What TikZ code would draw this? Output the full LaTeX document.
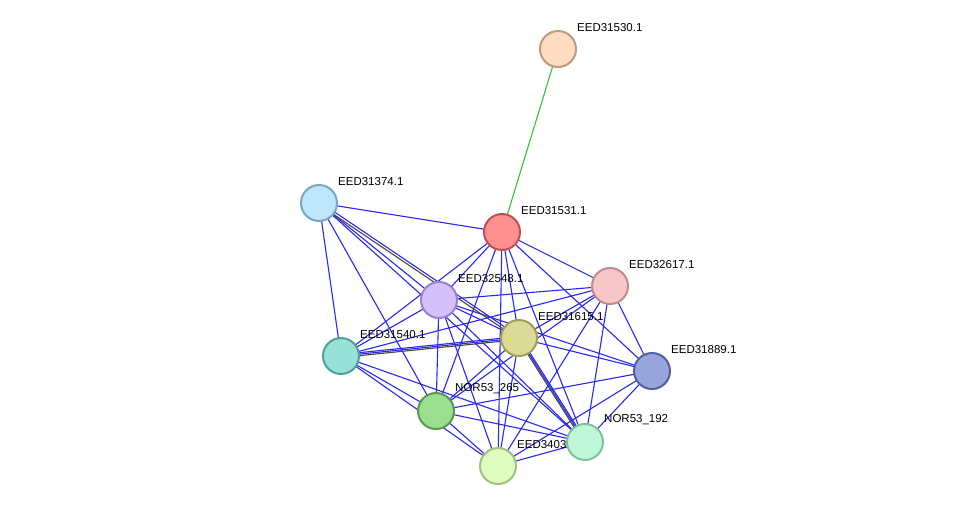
\documentclass[tikz,border=0pt]{standalone}
\usepackage{fontspec}
\setmainfont{Liberation Sans}
\begin{document}
\begin{tikzpicture}[x=1pt,y=-1pt,
  nd/.style={circle,minimum size=36pt,inner sep=0pt,line width=2pt},
  lb/.style={anchor=south west,inner sep=0pt,font=\fontsize{11.5}{13}\selectfont},
  e/.style={draw={rgb,255:red,40;green,40;blue,240},line width=1.1pt},
  g/.style={draw={rgb,255:red,70;green,70;blue,70},line width=1.1pt}]
\useasboundingbox (0,0) rectangle (976,512);
\coordinate (p530) at (558,49);
\coordinate (p374) at (319,203);
\coordinate (p531) at (502,232);
\coordinate (p617) at (610,286);
\coordinate (p548) at (439,300);
\coordinate (p615) at (519,338);
\coordinate (p540) at (341,356);
\coordinate (p889) at (652,371);
\coordinate (p265) at (436,411);
\coordinate (p192) at (585,442);
\coordinate (p3403) at (498,466);
\draw[line width=1.1pt,green!70!black!80] (p531) -- (p530);
\foreach \a/\b in {374/531,374/548,374/540,374/265,374/192,
  531/548,531/540,531/615,531/617,531/889,531/3403,531/192,531/265,
  548/617,548/615,548/540,548/265,548/3403,548/192,548/889,
  617/540,617/615,617/265,617/889,617/192,617/3403,
  615/540,615/265,615/3403,615/192,615/889,
  540/265,540/3403,540/192,
  265/889,265/3403,265/192,
  889/192,889/3403,3403/192}
  \path[e] (p\a) -- (p\b);
\path[g] ([yshift=-1.5]p374) -- ([yshift=-1.5]p615);
\path[e] ([yshift=1.5]p374) -- ([yshift=1.5]p615);
\path[g] ([yshift=-1.5]p540) -- ([yshift=-1.5]p615);
\path[e] ([yshift=1.5]p540) -- ([yshift=1.5]p615);
\path[g] ([xshift=-1.5]p615) -- ([xshift=-1.5]p192);
\path[e] ([xshift=1.5]p615) -- ([xshift=1.5]p192);
\foreach \n/\t in {530/EED31530.1,374/EED31374.1,531/EED31531.1,617/EED32617.1,548/EED32548.1,615/EED31615.1,540/EED31540.1,889/EED31889.1,265/NOR53\_265,192/NOR53\_192,3403/EED3403}
  \node[lb] (l\n) at ([xshift=19,yshift=17]p\n) {\t};
\node[nd,fill={rgb,255:red,255;green,221;blue,192},draw={rgb,255:red,192;green,154;blue,122}] (n530) at (p530) {};
\node[nd,fill={rgb,255:red,192;green,230;blue,251},draw={rgb,255:red,123;green,166;blue,194}] (n374) at (p374) {};
\node[nd,fill={rgb,255:red,255;green,144;blue,144},draw={rgb,255:red,192;green,80;blue,80}] (n531) at (p531) {};
\node[nd,fill={rgb,255:red,247;green,198;blue,200},draw={rgb,255:red,192;green,140;blue,144}] (n617) at (p617) {};
\node[nd,fill={rgb,255:red,212;green,192;blue,250},draw={rgb,255:red,154;green,128;blue,200}] (n548) at (p548) {};
\node[nd,fill={rgb,255:red,220;green,218;blue,152},draw={rgb,255:red,160;green,160;blue,80}] (n615) at (p615) {};
\node[nd,fill={rgb,255:red,152;green,224;blue,216},draw={rgb,255:red,80;green,160;blue,152}] (n540) at (p540) {};
\node[nd,fill={rgb,255:red,152;green,164;blue,220},draw={rgb,255:red,80;green,96;blue,160}] (n889) at (p889) {};
\node[nd,fill={rgb,255:red,154;green,222;blue,144},draw={rgb,255:red,90;green,154;blue,80}] (n265) at (p265) {};
\node[nd,fill={rgb,255:red,191;green,248;blue,216},draw={rgb,255:red,128;green,192;blue,154}] (n192) at (p192) {};
\node[nd,fill={rgb,255:red,224;green,252;blue,192},draw={rgb,255:red,160;green,192;blue,128}] (n3403) at (p3403) {};
\end{tikzpicture}
\end{document}
